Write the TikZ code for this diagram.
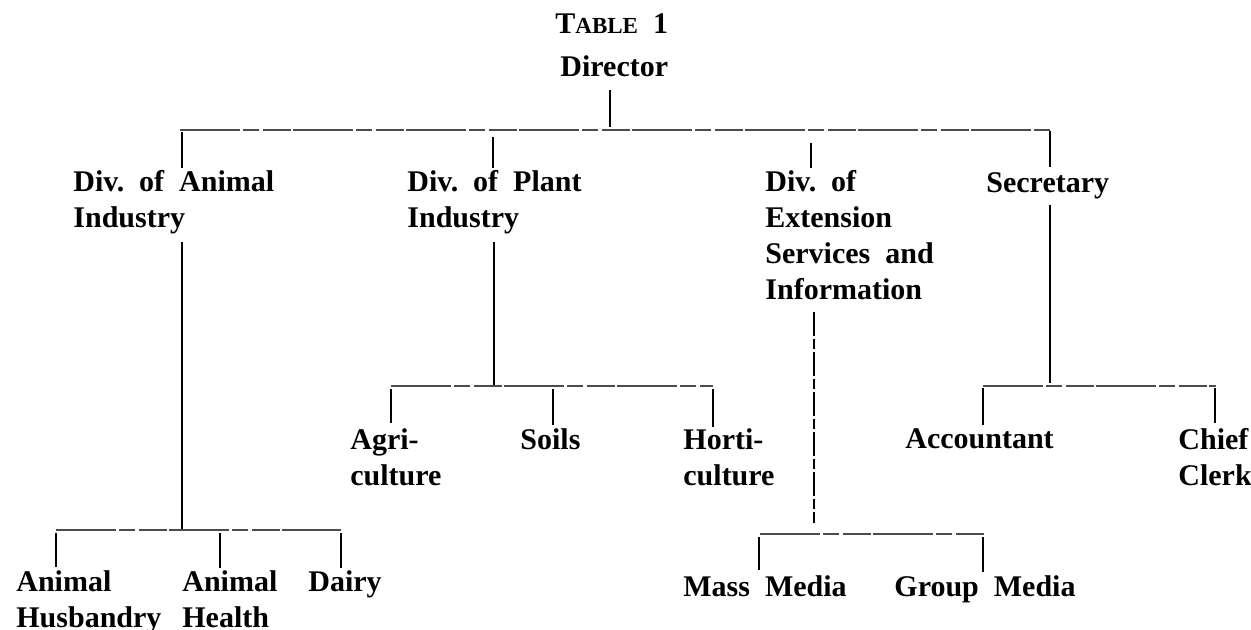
\documentclass[tikz,border=0pt]{standalone}
\usepackage{fontspec}
\setmainfont{Liberation Serif}
\begin{document}
\begin{tikzpicture}[x=0.5pt,y=-0.5pt,
  lbl/.style={font=\bfseries\fontsize{15}{18}\selectfont, anchor=north west, inner sep=0pt, align=left},
  vline/.style={line width=1.25pt, black},
  hline/.style={line width=0.55pt, black!70, dash pattern=on 30pt off 1.5pt on 8pt off 2pt on 14pt off 1pt},
  dline/.style={line width=0.8pt, black, dash pattern=on 12pt off 1.5pt on 5pt off 1.5pt}]
\useasboundingbox (0,0) rectangle (1251,630);
% titles
\node[lbl] (tab) at (555,13) {T{\fontsize{11.5}{14}\selectfont ABLE}\ \ 1};
\node[lbl] (dir) at (560,55) {Director};
% level 1
\node[lbl] (ani) at (73,170) {Div.\ \ of\ \ Animal\\Industry};
\node[lbl] (pla) at (407,170) {Div.\ \ of\ \ Plant\\Industry};
\node[lbl] (ext) at (765,170) {Div.\ \ of\\Extension\\Services\ \ and\\Information};
\node[lbl] (sec) at (986,172) {Secretary};
% level 2
\node[lbl] (hus) at (16,570) {Animal\\Husbandry};
\node[lbl] (hea) at (182,570) {Animal\\Health};
\node[lbl] (dai) at (308,570) {Dairy};
\node[lbl] (agr) at (350,428) {Agri-\\culture};
\node[lbl] (soi) at (520,428) {Soils};
\node[lbl] (hor) at (683,428) {Horti-\\culture};
\node[lbl] (mas) at (683,575) {Mass\ \ Media};
\node[lbl] (gro) at (894,575) {Group\ \ Media};
\node[lbl] (acc) at (905,428) {Accountant};
\node[lbl] (chi) at (1178,428) {Chief\\Clerk};
% junction coordinates
\coordinate (d0) at (610,90);
\coordinate (d1) at (610,127);
\coordinate (hL) at (180,130);
\coordinate (hR) at (1050,130);
\coordinate (a0) at (182,132); \coordinate (a1) at (182,168);
\coordinate (p0) at (493,137); \coordinate (p1) at (493,168);
\coordinate (e0) at (811,143); \coordinate (e1) at (811,168);
\coordinate (s0) at (1050,131); \coordinate (s1) at (1050,167);
% animal branch
\coordinate (a2) at (182,242); \coordinate (a3) at (182,529);
\coordinate (aL) at (56,530); \coordinate (aR) at (341,530);
\coordinate (hu0) at (56,533); \coordinate (hu1) at (56,567);
\coordinate (he0) at (220,533); \coordinate (he1) at (220,568);
\coordinate (da0) at (341,533); \coordinate (da1) at (341,568);
% plant branch
\coordinate (p2) at (494,242); \coordinate (p3) at (494,385);
\coordinate (pL) at (391,386); \coordinate (pR) at (713,386);
\coordinate (ag0) at (391,389); \coordinate (ag1) at (391,423);
\coordinate (so0) at (553,389); \coordinate (so1) at (553,425);
\coordinate (ho0) at (713,389); \coordinate (ho1) at (713,427);
% extension branch
\coordinate (e2) at (814,312); \coordinate (e3) at (814,523);
\coordinate (eL) at (760,534); \coordinate (eR) at (985,534);
\coordinate (ma0) at (759,537); \coordinate (ma1) at (759,570);
\coordinate (gr0) at (983,537); \coordinate (gr1) at (983,572);
% secretary branch
\coordinate (s2) at (1050,205); \coordinate (s3) at (1050,383);
\coordinate (sL) at (983,386); \coordinate (sR) at (1216,386);
\coordinate (ac0) at (983,388); \coordinate (ac1) at (983,425);
\coordinate (ch0) at (1215,388); \coordinate (ch1) at (1215,423);
% lines
\draw[vline] (d0) -- (d1);
\draw[hline] (hL) -- (hR);
\draw[vline] (a0) -- (a1);
\draw[vline] (p0) -- (p1);
\draw[vline] (e0) -- (e1);
\draw[vline] (s0) -- (s1);
\draw[vline] (a2) -- (a3);
\draw[hline] (aL) -- (aR);
\draw[vline] (hu0) -- (hu1);
\draw[vline] (he0) -- (he1);
\draw[vline] (da0) -- (da1);
\draw[vline] (p2) -- (p3);
\draw[hline] (pL) -- (pR);
\draw[vline] (ag0) -- (ag1);
\draw[vline] (so0) -- (so1);
\draw[vline] (ho0) -- (ho1);
\draw[dline] (e2) -- (e3);
\draw[hline] (eL) -- (eR);
\draw[vline] (ma0) -- (ma1);
\draw[vline] (gr0) -- (gr1);
\draw[vline] (s2) -- (s3);
\draw[hline] (sL) -- (sR);
\draw[vline] (ac0) -- (ac1);
\draw[vline] (ch0) -- (ch1);
\end{tikzpicture}
\end{document}
